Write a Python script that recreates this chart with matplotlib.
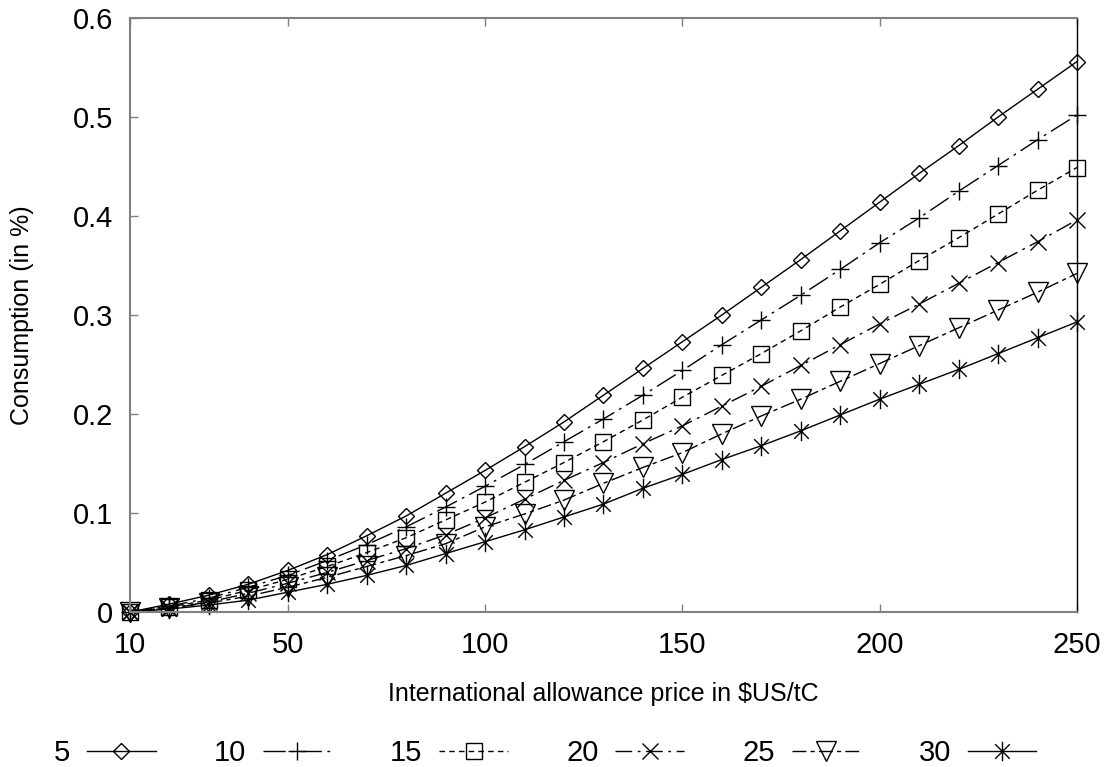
import matplotlib
matplotlib.use('Agg')
from matplotlib import pyplot as plt
from matplotlib.path import Path

plt.rcParams['font.family'] = ['Liberation Sans', 'DejaVu Sans']

price = [10, 20, 30, 40, 50, 60, 70, 80, 90, 100, 110, 120, 130,
         140, 150, 160, 170, 180, 190, 200, 210, 220, 230, 240, 250]

s5 = [0, 0.008, 0.017, 0.028, 0.042, 0.058, 0.077, 0.097, 0.120, 0.143, 0.167,
      0.192, 0.219, 0.246, 0.273, 0.300, 0.328, 0.356, 0.385, 0.414, 0.443,
      0.471, 0.500, 0.528, 0.556]
s10 = [0, 0.006, 0.014, 0.025, 0.037, 0.052, 0.068, 0.086, 0.106, 0.127, 0.149,
       0.172, 0.195, 0.219, 0.244, 0.270, 0.295, 0.320, 0.346, 0.373, 0.398,
       0.425, 0.451, 0.477, 0.502]
s15 = [0, 0.005, 0.012, 0.022, 0.033, 0.046, 0.060, 0.075, 0.093, 0.111, 0.131,
       0.151, 0.172, 0.194, 0.217, 0.239, 0.261, 0.284, 0.308, 0.331, 0.355,
       0.378, 0.402, 0.426, 0.449]
s20 = [0, 0.004, 0.010, 0.019, 0.029, 0.040, 0.052, 0.064, 0.078, 0.095, 0.114,
       0.133, 0.151, 0.170, 0.188, 0.208, 0.228, 0.249, 0.270, 0.291, 0.311,
       0.332, 0.353, 0.374, 0.396]
s25 = [0, 0.004, 0.009, 0.016, 0.025, 0.035, 0.046, 0.057, 0.069, 0.086, 0.099,
       0.113, 0.130, 0.146, 0.161, 0.180, 0.198, 0.215, 0.233, 0.251, 0.269,
       0.287, 0.305, 0.323, 0.342]
s30 = [0, 0.003, 0.007, 0.012, 0.020, 0.028, 0.037, 0.047, 0.059, 0.071, 0.083,
       0.096, 0.109, 0.125, 0.139, 0.154, 0.168, 0.183, 0.199, 0.215, 0.230,
       0.245, 0.261, 0.277, 0.293]

labels = ['5', '10', '15', '20', '25', '30']

# asterisk: vertical bar plus an x
star = Path([(0, -1), (0, 1), (-0.75, -0.75), (0.75, 0.75), (-0.75, 0.75), (0.75, -0.75)],
            [Path.MOVETO, Path.LINETO, Path.MOVETO, Path.LINETO, Path.MOVETO, Path.LINETO])

styles = [
    ('D', 8, '-'),
    ('+', 13, (0, (16, 4, 2, 4))),
    ('s', 11, (0, (4, 3))),
    ('x', 11, (0, (12, 4, 2, 4))),
    ('v', 14, (0, (10, 3, 3, 3))),
    (star, 14, '-'),
]

fig = plt.figure(figsize=(11.08, 7.67), dpi=100)
ax = fig.add_axes([0.1173, 0.2021, 0.8547, 0.7744])

for vals, lab, (m, ms, ls) in zip([s5, s10, s15, s20, s25, s30], labels, styles):
    ax.plot(price, vals, color='black', linewidth=1.0, linestyle=ls,
            marker=m, markersize=ms, markerfacecolor='none',
            markeredgecolor='black', markeredgewidth=1.0, label=lab,
            clip_on=False)

ax.set_xlim(10, 250)
ax.set_ylim(0, 0.6)
ax.set_xticks([10, 50, 100, 150, 200, 250])
ax.set_yticks([0, 0.1, 0.2, 0.3, 0.4, 0.5, 0.6])
ax.set_yticklabels(['0', '0.1', '0.2', '0.3', '0.4', '0.5', '0.6'])

for side in ['left', 'bottom', 'top']:
    ax.spines[side].set_color('#808080')
    ax.spines[side].set_linewidth(1.5)
ax.spines['right'].set_color('black')
ax.spines['right'].set_linewidth(1.0)
ax.tick_params(direction='in', length=6, width=1, color='#808080',
               top=True, labelsize=21)
ax.tick_params(axis='x', pad=14)
ax.tick_params(axis='y', pad=12)

ax.set_xlabel('International allowance price in $US/tC', fontsize=18, labelpad=16)
ax.set_ylabel('Consumption (in %)', fontsize=18, labelpad=28)

ax.legend(loc='center', bbox_to_anchor=(0.492, 0.018), bbox_transform=fig.transFigure,
          ncol=6, frameon=False, markerfirst=False, fontsize=21,
          handlelength=2.35, handletextpad=0.58, columnspacing=2.0,
          borderpad=0, borderaxespad=0)

fig.savefig('out.png', dpi=100)
